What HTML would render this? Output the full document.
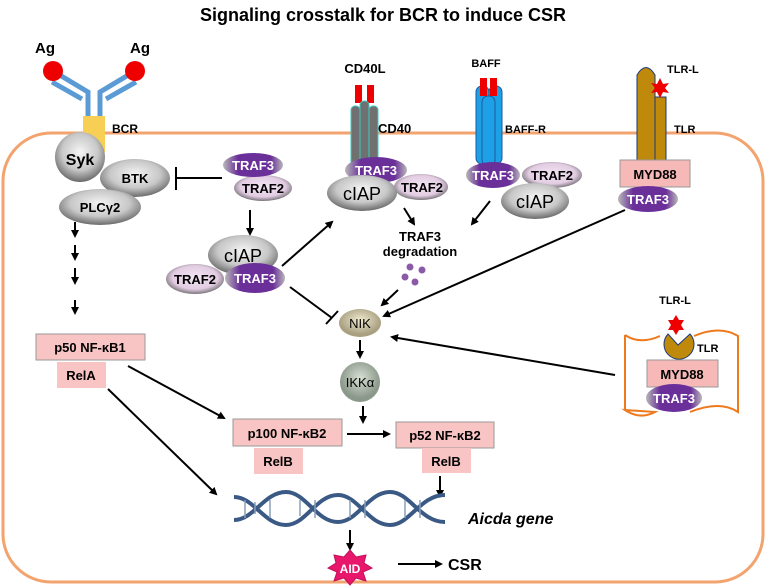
<!DOCTYPE html>
<html><head><meta charset="utf-8"><style>
html,body{margin:0;padding:0;background:#fff;}
svg{display:block;font-family:"Liberation Sans",sans-serif;}
</style></head><body>
<svg width="767" height="587" viewBox="0 0 767 587" xmlns="http://www.w3.org/2000/svg">
<defs>
<radialGradient id="g" cx="50%" cy="40%" r="60%"><stop offset="0" stop-color="#f4f4f4"/><stop offset="0.6" stop-color="#c8c8c8"/><stop offset="1" stop-color="#6a6a6a"/></radialGradient>
<radialGradient id="pk" cx="50%" cy="45%" r="60%"><stop offset="0" stop-color="#f3e6f3"/><stop offset="0.65" stop-color="#e2cce2"/><stop offset="1" stop-color="#5a5a5a"/></radialGradient>
<linearGradient id="pu" x1="0" x2="1"><stop offset="0" stop-color="#b8b8b8"/><stop offset="0.25" stop-color="#6b2f9a"/><stop offset="0.8" stop-color="#6b2f9a"/><stop offset="1" stop-color="#b8b8b8"/></linearGradient>
<radialGradient id="tan" cx="50%" cy="40%"><stop offset="0" stop-color="#f0ead0"/><stop offset="1" stop-color="#a8a080"/></radialGradient>
<radialGradient id="gr" cx="50%" cy="40%"><stop offset="0" stop-color="#d8e0d4"/><stop offset="1" stop-color="#8a988a"/></radialGradient>
<marker id="a" markerWidth="8" markerHeight="8" refX="6" refY="4" orient="auto" markerUnits="userSpaceOnUse"><path d="M0,0 L8,4 L0,8 z" fill="#000"/></marker>
</defs>
<text x="383" y="21" font-size="18" font-weight="bold" text-anchor="middle">Signaling crosstalk for BCR to induce CSR</text>
<rect x="3" y="133" width="760" height="449" rx="48" fill="none" stroke="#f2a36e" stroke-width="3"/>
<text x="45" y="53" font-size="15" font-weight="bold" text-anchor="middle">Ag</text>
<text x="140" y="53" font-size="15" font-weight="bold" text-anchor="middle">Ag</text>
<g stroke="#5b9bd5" stroke-width="5" fill="none">
<path d="M58,74 L88,92 L88,116"/><path d="M52,82 L82,99"/>
<path d="M130,74 L100,92 L100,116"/><path d="M136,82 L106,99"/>
</g>
<circle cx="53" cy="71" r="10" fill="#e00"/><circle cx="135" cy="71" r="10" fill="#e00"/>
<rect x="83" y="116" width="22" height="36" fill="#f7cf55"/>
<text x="112" y="133" font-size="12" font-weight="bold">BCR</text>
<circle cx="80" cy="157" r="25" fill="url(#g)"/>
<text x="80" y="165" font-size="16" font-weight="bold" text-anchor="middle">Syk</text>
<ellipse cx="135" cy="178" rx="35" ry="19" fill="url(#g)"/>
<text x="135" y="183" font-size="13" font-weight="bold" text-anchor="middle">BTK</text>
<ellipse cx="100" cy="207" rx="41" ry="18" fill="url(#g)"/>
<text x="100" y="212" font-size="13" font-weight="bold" text-anchor="middle">PLCγ2</text>
<g stroke="#000" stroke-width="2" fill="none">
<line x1="222" y1="178" x2="176" y2="178"/><line x1="176" y1="167" x2="176" y2="190"/>
<line x1="75" y1="222" x2="75" y2="236" marker-end="url(#a)"/>
<line x1="75" y1="245" x2="75" y2="259" marker-end="url(#a)"/>
<line x1="75" y1="268" x2="75" y2="283" marker-end="url(#a)"/>
<line x1="75" y1="300" x2="75" y2="313" marker-end="url(#a)"/>
<line x1="250" y1="210" x2="250" y2="234" marker-end="url(#a)"/>
<line x1="282" y1="266" x2="332" y2="222" marker-end="url(#a)"/>
<line x1="290" y1="287" x2="332" y2="318"/><line x1="326" y1="324" x2="338" y2="311"/>
<line x1="404" y1="208" x2="414" y2="224" marker-end="url(#a)"/>
<line x1="490" y1="201" x2="472" y2="224" marker-end="url(#a)"/>
<line x1="398" y1="290" x2="382" y2="305" marker-end="url(#a)"/>
<line x1="625" y1="210" x2="384" y2="316" marker-end="url(#a)"/>
<line x1="615" y1="375" x2="392" y2="337" marker-end="url(#a)"/>
<line x1="360" y1="340" x2="360" y2="357" marker-end="url(#a)"/>
<line x1="363" y1="406" x2="363" y2="422" marker-end="url(#a)"/>
<line x1="128" y1="366" x2="224" y2="418" marker-end="url(#a)"/>
<line x1="108" y1="389" x2="216" y2="494" marker-end="url(#a)"/>
<line x1="347" y1="434" x2="389" y2="434" marker-end="url(#a)"/>
<line x1="440" y1="476" x2="440" y2="496" marker-end="url(#a)"/>
<line x1="350" y1="530" x2="350" y2="549" marker-end="url(#a)"/>
<line x1="398" y1="564" x2="441" y2="564" marker-end="url(#a)"/>
</g>
<ellipse cx="263" cy="188" rx="29" ry="13" fill="url(#pk)"/>
<text x="263" y="193" font-size="13" font-weight="bold" text-anchor="middle">TRAF2</text>
<ellipse cx="253" cy="165" rx="30" ry="12" fill="url(#pu)"/>
<text x="253" y="170" font-size="13" font-weight="bold" fill="#fff" text-anchor="middle">TRAF3</text>
<ellipse cx="243" cy="255" rx="35" ry="20" fill="url(#g)"/>
<text x="243" y="262" font-size="18" text-anchor="middle">cIAP</text>
<ellipse cx="195" cy="279" rx="29" ry="15" fill="url(#pk)"/>
<text x="195" y="284" font-size="13" font-weight="bold" text-anchor="middle">TRAF2</text>
<ellipse cx="255" cy="278" rx="30" ry="15" fill="url(#pu)"/>
<text x="255" y="283" font-size="13" font-weight="bold" fill="#fff" text-anchor="middle">TRAF3</text>
<text x="365" y="73" font-size="13" font-weight="bold" text-anchor="middle">CD40L</text>
<rect x="355" y="85" width="7" height="18" fill="#e00"/><rect x="367" y="85" width="7" height="18" fill="#e00"/>
<g fill="#707070" stroke="#3cc8c0" stroke-width="1">
<rect x="351" y="106" width="9" height="60" rx="4"/><rect x="360" y="101" width="9" height="65" rx="4"/><rect x="369" y="106" width="9" height="60" rx="4"/>
</g>
<text x="378" y="133" font-size="13" font-weight="bold">CD40</text>
<ellipse cx="421" cy="187" rx="27" ry="13" fill="url(#pk)"/>
<text x="422" y="192" font-size="13" font-weight="bold" text-anchor="middle">TRAF2</text>
<ellipse cx="376" cy="170" rx="31" ry="13" fill="url(#pu)"/>
<text x="376" y="175" font-size="13" font-weight="bold" fill="#fff" text-anchor="middle">TRAF3</text>
<ellipse cx="362" cy="193" rx="35" ry="18" fill="url(#g)"/>
<text x="362" y="200" font-size="18" text-anchor="middle">cIAP</text>
<text x="420" y="241" font-size="13" font-weight="bold" text-anchor="middle">TRAF3</text>
<text x="420" y="256" font-size="13" font-weight="bold" text-anchor="middle">degradation</text>
<g fill="#8a5aa8"><circle cx="410" cy="267" r="3.5"/><circle cx="422" cy="270" r="3.5"/><circle cx="405" cy="277" r="3.5"/><circle cx="415" cy="282" r="3.5"/></g>
<text x="486" y="67" font-size="11" font-weight="bold" text-anchor="middle">BAFF</text>
<g fill="#1ea0e6" stroke="#1a5a9a" stroke-width="1">
<rect x="476" y="86" width="13" height="78" rx="6"/><rect x="489" y="86" width="13" height="78" rx="6"/><rect x="482" y="96" width="13" height="70" rx="6"/>
</g>
<rect x="480" y="78" width="7" height="18" fill="#e00"/><rect x="490" y="78" width="7" height="18" fill="#e00"/>
<text x="505" y="133" font-size="11" font-weight="bold">BAFF-R</text>
<ellipse cx="493" cy="175" rx="27" ry="13" fill="url(#pu)"/>
<text x="493" y="180" font-size="13" font-weight="bold" fill="#fff" text-anchor="middle">TRAF3</text>
<ellipse cx="552" cy="175" rx="30" ry="13" fill="url(#pk)"/>
<text x="552" y="180" font-size="13" font-weight="bold" text-anchor="middle">TRAF2</text>
<ellipse cx="535" cy="201" rx="34" ry="18" fill="url(#g)"/>
<text x="535" y="208" font-size="18" text-anchor="middle">cIAP</text>
<path d="M637,162 L637,75 Q646,60 655,75 L655,162 Z" fill="#bf8a0c" stroke="#1a3a7a" stroke-width="1"/>
<rect x="655" y="97" width="11" height="65" fill="#bf8a0c" stroke="#1a3a7a" stroke-width="1"/>
<polygon points="660,78 663,84 669,83 665,88 669,93 663,92 660,98 657,92 651,93 655,88 651,83 657,84" fill="#e00"/>
<text x="667" y="73" font-size="11" font-weight="bold">TLR-L</text>
<text x="674" y="133" font-size="11" font-weight="bold">TLR</text>
<rect x="620" y="160" width="70" height="27" fill="#f7b8b8" stroke="#999"/>
<text x="655" y="179" font-size="13" font-weight="bold" text-anchor="middle">MYD88</text>
<ellipse cx="648" cy="199" rx="30" ry="13" fill="url(#pu)"/>
<text x="648" y="204" font-size="13" font-weight="bold" fill="#fff" text-anchor="middle">TRAF3</text>
<path d="M625,335 Q640,345 660,336 M694,336 Q720,325 738,336 L738,412 Q720,400 690,412 M655,412 Q640,420 625,410 Z" fill="none" stroke="#ee7a1e" stroke-width="2"/>
<path d="M625,335 L625,410 M738,336 L738,412" stroke="#ee7a1e" stroke-width="2"/>
<text x="675" y="304" font-size="11" font-weight="bold" text-anchor="middle">TLR-L</text>
<polygon points="676,315 679,320 684,320 681,325 684,330 679,330 676,335 673,330 668,330 671,325 668,320 673,320" fill="#e00"/>
<path d="M678,345 L668,334 A15,15 0 1,0 690,334 Z" fill="#bf8a0c" stroke="#1a3a7a" stroke-width="1"/>
<text x="697" y="352" font-size="11" font-weight="bold">TLR</text>
<rect x="647" y="360" width="71" height="27" fill="#f7b8b8" stroke="#999"/>
<text x="682" y="379" font-size="13" font-weight="bold" text-anchor="middle">MYD88</text>
<ellipse cx="674" cy="398" rx="28" ry="14" fill="url(#pu)"/>
<text x="674" y="403" font-size="13" font-weight="bold" fill="#fff" text-anchor="middle">TRAF3</text>
<ellipse cx="360" cy="323" rx="21" ry="14" fill="url(#tan)"/>
<text x="360" y="328" font-size="13" text-anchor="middle">NIK</text>
<circle cx="360" cy="382" r="20" fill="url(#gr)"/>
<text x="360" y="387" font-size="13" text-anchor="middle">IKKα</text>
<rect x="36" y="334" width="109" height="26" fill="#f9c4c4" stroke="#999"/>
<text x="90" y="352" font-size="13" font-weight="bold" text-anchor="middle">p50 NF-κB1</text>
<rect x="57" y="362" width="49" height="26" fill="#f9c4c4"/>
<text x="81" y="380" font-size="13" font-weight="bold" text-anchor="middle">RelA</text>
<rect x="233" y="419" width="109" height="27" fill="#f9c4c4" stroke="#999"/>
<text x="287" y="438" font-size="13" font-weight="bold" text-anchor="middle">p100 NF-κB2</text>
<rect x="254" y="448" width="49" height="26" fill="#f9c4c4"/>
<text x="278" y="466" font-size="13" font-weight="bold" text-anchor="middle">RelB</text>
<rect x="396" y="422" width="98" height="26" fill="#f9c4c4" stroke="#999"/>
<text x="445" y="440" font-size="13" font-weight="bold" text-anchor="middle">p52 NF-κB2</text>
<rect x="422" y="448" width="49" height="25" fill="#f9c4c4"/>
<text x="446" y="466" font-size="13" font-weight="bold" text-anchor="middle">RelB</text>
<g fill="none" stroke="#3a5a85" stroke-width="4">
<path d="M234,497 C254,497 264,525 286,525 C306,525 316,495 338,495 C358,495 368,525 390,525 C410,525 420,495 445,495"/>
<path d="M234,520 C254,520 264,492 286,492 C306,492 316,522 338,522 C358,522 368,492 390,492 C410,492 420,522 445,522"/>
</g>
<g stroke="#8aa0bb" stroke-width="1.5">
<line x1="245" y1="500" x2="245" y2="518"/><line x1="255" y1="502" x2="255" y2="514"/><line x1="270" y1="500" x2="270" y2="518"/><line x1="300" y1="500" x2="300" y2="516"/><line x1="315" y1="500" x2="315" y2="518"/><line x1="350" y1="500" x2="350" y2="518"/><line x1="365" y1="500" x2="365" y2="518"/><line x1="405" y1="500" x2="405" y2="518"/><line x1="420" y1="500" x2="420" y2="518"/>
</g>
<text x="468" y="524" font-size="16" font-weight="bold" font-style="italic">Aicda gene</text>
<polygon points="350,550 356,557 366,555 364,563 372,568 363,572 366,581 356,578 350,585 344,578 334,581 337,572 328,568 336,563 334,555 344,557" fill="#e8176b" stroke="#c0105a"/>
<text x="350" y="573" font-size="12" font-weight="bold" fill="#fff" text-anchor="middle">AID</text>
<text x="448" y="570" font-size="16" font-weight="bold">CSR</text>
</svg>
</body></html>
